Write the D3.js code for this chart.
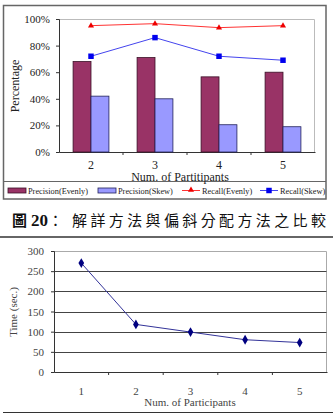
<!DOCTYPE html>
<html><head><meta charset="utf-8">
<script src="https://cdn.jsdelivr.net/npm/d3@7"></script>
<style>body{margin:0;background:#fff}svg{display:block}</style>
</head><body>
<script>
// ---- Data: chart 1 ----
const partitions = ["2", "3", "4", "5"];
const precisionEvenly = [0.68, 0.71, 0.565, 0.60];
const precisionSkew = [0.42, 0.40, 0.205, 0.19];
const recallEvenly = [0.95, 0.965, 0.935, 0.95];
const recallSkew = [0.72, 0.86, 0.72, 0.69];
const pctTicks = [0, 0.2, 0.4, 0.6, 0.8, 1.0];
const legendLabels = ["Precision(Evenly)", "Precision(Skew)", "Recall(Evenly)", "Recall(Skew)"];
// ---- Data: chart 2 ----
const participants = ["1", "2", "3", "4", "5"];
const timeSec = [270, 118, 99, 80, 73];
const timeTicks = [0, 50, 100, 150, 200, 250, 300];
const captionText = "解詳方法與偏斜分配方法之比較";

const W = 333, H = 420;
const SERIF = '"Liberation Serif","Times New Roman",serif';
const CJK = '"Noto Sans CJK TC",sans-serif';
const svg = d3.select("body").append("svg").attr("width", W).attr("height", H);

function serifText(sel) { sel.attr("font-family", null).style("font-family", SERIF); return sel; }

// ================= Chart 1 =================
const c1 = svg.append("g");
c1.append("rect").attr("x", 3.5).attr("y", 5.5).attr("width", 322.5).attr("height", 193.5)
  .attr("fill", "#fff").attr("stroke", "#666").attr("stroke-width", 1.5);
c1.append("line").attr("x1", 3.5).attr("x2", 326).attr("y1", 181.5).attr("y2", 181.5)
  .attr("stroke", "#666").attr("stroke-width", 1.2);

const x1 = d3.scaleBand().domain(partitions).range([59, 315]).paddingInner(0.44).paddingOuter(0.22);
const y1 = d3.scaleLinear().domain([0, 1]).range([152, 19]);
const sub = d3.scaleBand().domain([0, 1]).range([0, x1.bandwidth()]);
const xc = d => x1(d) + x1.bandwidth() / 2;

c1.append("path").attr("d", `M59,19.5H314.5V152`).attr("fill", "none").attr("stroke", "#bbb").attr("stroke-width", 1);

const ya1 = c1.append("g").attr("transform", "translate(59,0)")
  .call(d3.axisLeft(y1).tickValues(pctTicks).tickFormat(d3.format(".0%")).tickSize(3).tickPadding(6));
ya1.select(".domain").attr("stroke", "#333");
ya1.selectAll(".tick line").attr("stroke", "#333");
ya1.selectAll("text").call(serifText).attr("font-size", 11).attr("fill", "#222");

const xa1 = c1.append("g").attr("transform", "translate(0,152)")
  .call(d3.axisBottom(x1).tickSize(0).tickSizeOuter(0).tickPadding(8));
xa1.select(".domain").attr("stroke", "#333");
xa1.selectAll("text").call(serifText).attr("font-size", 12).attr("fill", "#222");
c1.append("g").selectAll("line").data(partitions.slice(1)).join("line")
  .attr("x1", d => x1(d) - x1.step() * x1.paddingInner() / 2).attr("x2", d => x1(d) - x1.step() * x1.paddingInner() / 2)
  .attr("y1", 152).attr("y2", 155).attr("stroke", "#333");

c1.append("g").selectAll("rect").data(partitions).join("rect")
  .attr("x", d => x1(d) + sub(0)).attr("width", sub.bandwidth())
  .attr("y", (d, i) => y1(precisionEvenly[i])).attr("height", (d, i) => y1(0) - y1(precisionEvenly[i]))
  .attr("fill", "#993366").attr("stroke", "#3a1026").attr("stroke-width", 0.8);
c1.append("g").selectAll("rect").data(partitions).join("rect")
  .attr("x", d => x1(d) + sub(1)).attr("width", sub.bandwidth())
  .attr("y", (d, i) => y1(precisionSkew[i])).attr("height", (d, i) => y1(0) - y1(precisionSkew[i]))
  .attr("fill", "#9999ff").attr("stroke", "#22225a").attr("stroke-width", 0.8);

const line1 = d3.line().x((v, i) => xc(partitions[i])).y(v => y1(v));
c1.append("path").attr("d", line1(recallEvenly)).attr("fill", "none").attr("stroke", "#ff3333").attr("stroke-width", 1);
c1.append("path").attr("d", line1(recallSkew)).attr("fill", "none").attr("stroke", "#4444ee").attr("stroke-width", 1);
const tri = d3.symbol().type(d3.symbolTriangle).size(16);
const sq = d3.symbol().type(d3.symbolSquare).size(30);
c1.append("g").selectAll("path").data(recallEvenly).join("path")
  .attr("d", tri).attr("transform", (v, i) => `translate(${xc(partitions[i])},${y1(v)})`).attr("fill", "#ee0000");
c1.append("g").selectAll("path").data(recallSkew).join("path")
  .attr("d", sq).attr("transform", (v, i) => `translate(${xc(partitions[i])},${y1(v)})`).attr("fill", "#0000ee");

c1.append("text").call(serifText).attr("transform", "translate(19,86) rotate(-90)").attr("text-anchor", "middle")
  .attr("font-size", 12).attr("fill", "#222").text("Percentage");
c1.append("text").call(serifText).attr("x", 180).attr("y", 180.5).attr("text-anchor", "middle")
  .attr("font-size", 12).attr("fill", "#222").text("Num. of Partitipants");

const leg = c1.append("g").attr("font-size", 8.3).attr("fill", "#222");
const legX = [8, 98, 182, 260];
leg.append("rect").attr("x", legX[0]).attr("y", 188).attr("width", 18).attr("height", 5).attr("fill", "#993366").attr("stroke", "#3a1026").attr("stroke-width", 0.8);
leg.append("rect").attr("x", legX[1]).attr("y", 188).attr("width", 18).attr("height", 5).attr("fill", "#9999ff").attr("stroke", "#22225a").attr("stroke-width", 0.8);
leg.append("line").attr("x1", legX[2]).attr("x2", legX[2] + 18).attr("y1", 190.5).attr("y2", 190.5).attr("stroke", "#ff3333");
leg.append("path").attr("d", tri).attr("transform", `translate(${legX[2] + 9},190)`).attr("fill", "#ee0000");
leg.append("line").attr("x1", legX[3]).attr("x2", legX[3] + 18).attr("y1", 190.5).attr("y2", 190.5).attr("stroke", "#4444ee");
leg.append("path").attr("d", sq).attr("transform", `translate(${legX[3] + 9},190.5)`).attr("fill", "#0000ee");
leg.selectAll("text").data(legendLabels).join("text").call(serifText)
  .attr("x", (d, i) => legX[i] + 20).attr("y", 193.5).text(d => d);

// caption
const cap = svg.append("text").attr("x", 12).attr("y", 226).attr("fill", "#111");
cap.append("tspan").style("font-family", CJK).attr("font-weight", "bold").attr("font-size", 15).text("圖");
cap.append("tspan").style("font-family", SERIF).attr("dx", 4).attr("font-weight", "bold").attr("font-size", 17).text("20");
cap.append("tspan").style("font-family", CJK).attr("font-size", 15).text("：");
svg.append("text").attr("x", 72).attr("y", 226).attr("fill", "#111")
  .style("font-family", CJK).attr("font-size", 15)
  .attr("textLength", 254).attr("lengthAdjust", "spacing").text(captionText);
svg.append("line").attr("x1", 0).attr("x2", W).attr("y1", 237).attr("y2", 237).attr("stroke", "#333").attr("stroke-width", 1.5);

// ================= Chart 2 =================
const c2 = svg.append("g");
const x2 = d3.scaleBand().domain(participants).range([54, 327]);
const y2 = d3.scaleLinear().domain([0, 300]).range([372, 251]);
const xc2 = d => x2(d) + x2.bandwidth() / 2;

c2.append("path").attr("d", `M54,${y2(300) + 0.5}H326.5V372`).attr("fill", "none").attr("stroke", "#aaa");
c2.append("g").selectAll("line").data(timeTicks.filter(t => t > 0 && t < 300)).join("line")
  .attr("x1", 54).attr("x2", 326.5).attr("y1", d => Math.round(y2(d)) + 0.5).attr("y2", d => Math.round(y2(d)) + 0.5)
  .attr("stroke", "#444").attr("stroke-width", 1.2);

const ya2 = c2.append("g").attr("transform", "translate(54,0)")
  .call(d3.axisLeft(y2).tickValues(timeTicks).tickSize(3).tickPadding(7));
ya2.select(".domain").attr("stroke", "#333");
ya2.selectAll(".tick line").attr("stroke", "#333");
ya2.selectAll("text").call(serifText).attr("font-size", 11).attr("fill", "#444");

const xa2 = c2.append("g").attr("transform", "translate(0,372)")
  .call(d3.axisBottom(x2).tickSize(0).tickSizeOuter(0).tickPadding(15));
xa2.select(".domain").attr("stroke", "#333");
xa2.selectAll("text").call(serifText).attr("font-size", 11).attr("fill", "#444");
c2.append("g").selectAll("line").data(participants.slice(1)).join("line")
  .attr("x1", d => x2(d)).attr("x2", d => x2(d)).attr("y1", 372).attr("y2", 375).attr("stroke", "#333");

const line2 = d3.line().x((v, i) => xc2(participants[i])).y(v => y2(v));
c2.append("path").attr("d", line2(timeSec)).attr("fill", "none").attr("stroke", "#333399").attr("stroke-width", 1);
c2.append("g").selectAll("path").data(timeSec).join("path")
  .attr("d", d3.symbol().type(d3.symbolDiamond).size(28))
  .attr("transform", (v, i) => `translate(${xc2(participants[i])},${y2(v)})`).attr("fill", "#000080");

c2.append("text").call(serifText).attr("transform", "translate(17,312) rotate(-90)").attr("text-anchor", "middle")
  .attr("font-size", 11).attr("fill", "#444").text("Time (sec.)");
c2.append("text").call(serifText).attr("x", 190).attr("y", 406).attr("text-anchor", "middle")
  .attr("font-size", 11).attr("fill", "#444").text("Num. of Participants");
svg.append("line").attr("x1", 3).attr("x2", W).attr("y1", 412.5).attr("y2", 412.5).attr("stroke", "#333").attr("stroke-width", 1.2);
</script>
</body></html>
